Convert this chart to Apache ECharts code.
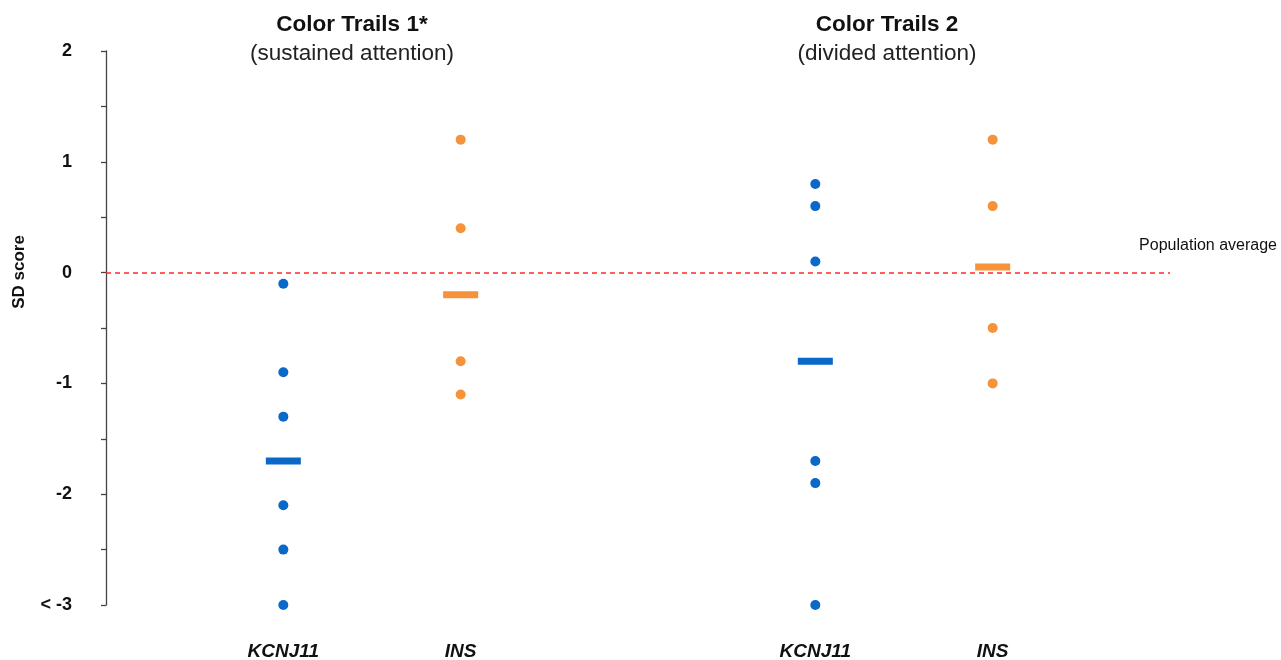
<!DOCTYPE html>
<html>
<head>
<meta charset="utf-8">
<script src="https://cdn.jsdelivr.net/npm/echarts@6/dist/echarts.min.js"></script>
<style>
  html, body { margin: 0; padding: 0; background: #fff; }
  #chart { width: 1281px; height: 660px; }
</style>
</head>
<body>
<div id="chart"></div>
<script>
// ---- data ----
var categories = ['', 'KCNJ11', 'INS', '', 'KCNJ11', 'INS', ''];
var groupTitles = ['Color Trails 1*', 'Color Trails 2'];
var groupSubtitles = ['(sustained attention)', '(divided attention)'];

// individual SD scores
var ct1KCNJ11 = [-0.1, -0.9, -1.3, -2.1, -2.5, -3.0];
var ct1INS = [1.2, 0.4, -0.8, -1.1];
var ct2KCNJ11 = [0.8, 0.6, 0.1, -1.7, -1.9, -3.0];
var ct2INS = [1.2, 0.6, -0.5, -1.0];

// group means (horizontal bars)
var ct1Means = [-1.7, -0.2];   // KCNJ11, INS
var ct2Means = [-0.8, 0.05];   // KCNJ11, INS

var yTickValues = [-3, -2, -1, 0, 1, 2];
var yTickLabels = ['< -3', '-2', '-1', '0', '1', '2'];
var yAxisTitle = 'SD score';
var populationAverage = 0;
var referenceLabel = 'Population average';

var blue = '#0a68c8';
var orange = '#f5923a';
var font = 'Liberation Sans, Arial, sans-serif';

function pts(idx, arr) { return arr.map(function (v) { return [idx, v]; }); }

var chart = echarts.init(document.getElementById('chart'), null, { renderer: 'canvas' });
var option = {
  backgroundColor: '#ffffff',
  animation: false,
  title: [
    {
      text: groupTitles[0], subtext: groupSubtitles[0],
      left: 347, top: 8, textAlign: 'center', itemGap: 6,
      textStyle: { fontFamily: font, fontSize: 22.5, fontWeight: 'bold', color: '#111' },
      subtextStyle: { fontFamily: font, fontSize: 22.5, fontWeight: 'normal', color: '#222' }
    },
    {
      text: groupTitles[1], subtext: groupSubtitles[1],
      left: 882, top: 8, textAlign: 'center', itemGap: 6,
      textStyle: { fontFamily: font, fontSize: 22.5, fontWeight: 'bold', color: '#111' },
      subtextStyle: { fontFamily: font, fontSize: 22.5, fontWeight: 'normal', color: '#222' }
    }
  ],
  grid: { left: 106, right: 111, top: 51, bottom: 55, containLabel: false, outerBoundsMode: 'none' },
  xAxis: {
    type: 'category',
    data: categories,
    boundaryGap: false,
    axisLine: { show: false },
    axisTick: { show: false },
    splitLine: { show: false },
    axisLabel: {
      interval: 0, margin: 37,
      fontFamily: font, fontSize: 19, fontWeight: 'bold', fontStyle: 'italic', color: '#111'
    }
  },
  yAxis: {
    type: 'value',
    min: -3, max: 2, interval: 0.5,
    axisLine: { show: true, lineStyle: { color: '#444', width: 1.3 } },
    axisTick: { show: true, length: 5, inside: false, lineStyle: { color: '#444', width: 1.3 } },
    splitLine: { show: false },
    axisLabel: {
      margin: 34,
      fontFamily: font, fontSize: 18, fontWeight: 'bold', color: '#111',
      formatter: function (v) {
        var i = yTickValues.indexOf(v);
        return i >= 0 ? yTickLabels[i] : '';
      }
    }
  },
  graphic: [
    {
      type: 'text', right: 4, top: 238,
      style: { text: referenceLabel, fontFamily: font, fontSize: 16, fill: '#111' }
    },
    {
      type: 'text', x: 19, y: 272, rotation: Math.PI / 2,
      style: {
        text: yAxisTitle, fontFamily: font, fontSize: 17, fontWeight: 'bold', fill: '#111',
        align: 'center', verticalAlign: 'middle'
      }
    }
  ],
  series: [
    {
      name: 'KCNJ11', type: 'scatter', symbolSize: 10,
      itemStyle: { color: blue, opacity: 1 },
      data: pts(1, ct1KCNJ11).concat(pts(4, ct2KCNJ11)),
      markLine: {
        silent: true, symbol: 'none',
        lineStyle: { color: '#ff2a2a', type: [5, 4], width: 1.5 },
        label: { show: false },
        data: [{ yAxis: populationAverage }]
      },
      z: 3
    },
    {
      name: 'INS', type: 'scatter', symbolSize: 10,
      itemStyle: { color: orange, opacity: 1 },
      data: pts(2, ct1INS).concat(pts(5, ct2INS)),
      z: 3
    },
    {
      name: 'KCNJ11 mean', type: 'scatter', symbol: 'rect', symbolSize: [35, 7],
      itemStyle: { color: blue, opacity: 1 },
      data: [[1, ct1Means[0]], [4, ct2Means[0]]],
      z: 4
    },
    {
      name: 'INS mean', type: 'scatter', symbol: 'rect', symbolSize: [35, 7],
      itemStyle: { color: orange, opacity: 1 },
      data: [[2, ct1Means[1]], [5, ct2Means[1]]],
      z: 4
    }
  ]
};
chart.setOption(option);
</script>
</body>
</html>
